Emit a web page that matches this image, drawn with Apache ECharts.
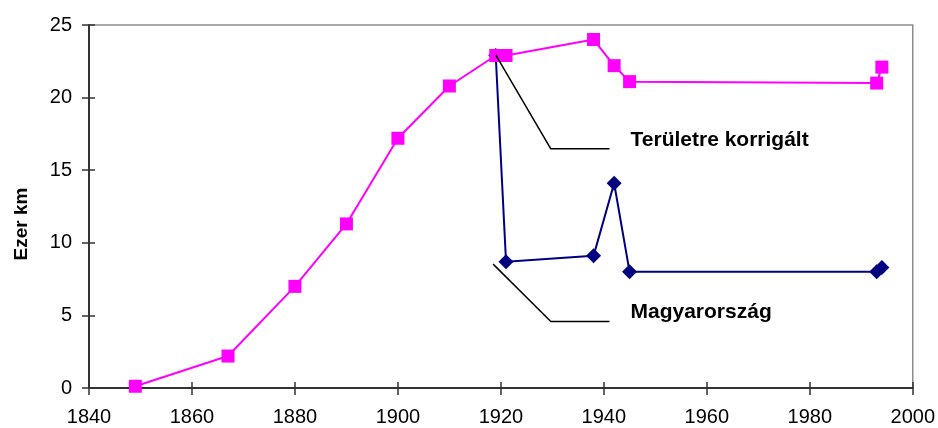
<!DOCTYPE html>
<html>
<head>
<meta charset="utf-8">
<script src="https://cdn.jsdelivr.net/npm/echarts@6/dist/echarts.min.js"></script>
<style>
  html, body { margin: 0; padding: 0; background: #fff; }
  #chart { width: 938px; height: 428px; }
</style>
</head>
<body>
<div id="chart"></div>
<script>
// Railway network length, thousand km
const years      = [1849, 1867, 1880, 1890, 1900, 1910, 1919, 1921, 1938, 1942, 1945, 1993, 1994];
const korrigalt  = [0.12, 2.2, 7.0, 11.3, 17.2, 20.8, 22.9, 22.9, 24.0, 22.2, 21.1, 21.0, 22.1];
const magyarYears = [1919, 1921, 1938, 1942, 1945, 1993, 1994];
const magyar      = [22.9, 8.7, 9.1, 14.1, 8.0, 8.0, 8.3];

const xTicks = [1840, 1860, 1880, 1900, 1920, 1940, 1960, 1980, 2000];
const yTicks = [0, 5, 10, 15, 20, 25];

// Callout leader lines (data coordinates) and their captions
const leaderKorrigalt = [[1919, 22.94], [1929.7, 16.47], [1941.1, 16.47]];
const leaderMagyar    = [[1918.5, 8.53], [1929.7, 4.58], [1941.1, 4.58]];
const captionKorrigalt = 'Területre korrigált';
const captionMagyar    = 'Magyarország';
const yTitle = 'Ezer km';

const FONT = '"Liberation Sans", Arial, sans-serif';

const pairs = (xs, ys) => xs.map((x, i) => [x, ys[i]]);

const chart = echarts.init(document.getElementById('chart'), null, { renderer: 'canvas' });

const xBase = {
  type: 'value', min: xTicks[0], max: xTicks[xTicks.length - 1], interval: 20,
  position: 'bottom', splitLine: { show: false }
};
const yBase = {
  type: 'value', min: yTicks[0], max: yTicks[yTicks.length - 1], interval: 5,
  position: 'left', splitLine: { show: false }
};

chart.setOption({
  animation: false,
  backgroundColor: '#ffffff',
  grid: {
    left: 89, right: 25, top: 25, bottom: 40,
    show: true, borderColor: '#8c8c8c', borderWidth: 1.5, backgroundColor: 'transparent'
  },
  xAxis: [
    Object.assign({}, xBase, {
      axisLine: { show: true, lineStyle: { color: '#333', width: 2 } },
      axisTick: { show: true, inside: false, length: 7, lineStyle: { color: '#333', width: 1.5 } },
      axisLabel: { show: true, margin: 19, color: '#000', fontSize: 20, fontFamily: FONT,
                   formatter: v => String(v) }
    }),
    Object.assign({}, xBase, {
      axisLine: { show: false },
      axisTick: { show: true, inside: true, length: 6, lineStyle: { color: '#333', width: 1.5 } },
      axisLabel: { show: false }
    })
  ],
  yAxis: [
    Object.assign({}, yBase, {
      axisLine: { show: true, lineStyle: { color: '#333', width: 2 } },
      axisTick: { show: true, inside: false, length: 7, lineStyle: { color: '#333', width: 1.5 } },
      axisLabel: { show: true, margin: 17, color: '#000', fontSize: 20, fontFamily: FONT,
                   formatter: v => String(v) }
    }),
    Object.assign({}, yBase, {
      axisLine: { show: false },
      axisTick: { show: true, inside: true, length: 6, lineStyle: { color: '#333', width: 1.5 } },
      axisLabel: { show: false }
    })
  ],
  series: [
    {
      name: captionMagyar, type: 'line', xAxisIndex: 0, yAxisIndex: 0, z: 2,
      data: pairs(magyarYears, magyar),
      symbol: 'diamond', symbolSize: 15, showSymbol: true,
      lineStyle: { color: '#000080', width: 2 },
      itemStyle: { color: '#000080' }
    },
    {
      name: captionKorrigalt, type: 'line', xAxisIndex: 0, yAxisIndex: 0, z: 3,
      data: pairs(years, korrigalt),
      symbol: 'rect', symbolSize: 13, showSymbol: true,
      lineStyle: { color: '#ff00ff', width: 2 },
      itemStyle: { color: '#ff00ff' }
    },
    {
      type: 'line', z: 4, silent: true, data: leaderKorrigalt,
      symbol: 'none', lineStyle: { color: '#000', width: 1.5 }
    },
    {
      type: 'line', z: 4, silent: true, data: leaderMagyar,
      symbol: 'none', lineStyle: { color: '#000', width: 1.5 }
    }
  ]
});

// Captions placed just right of each leader line's end
function caption(text, end) {
  const p = chart.convertToPixel({ xAxisIndex: 0, yAxisIndex: 0 }, end);
  return {
    type: 'text', x: p[0] + 21, y: p[1] - 9, z: 10,
    style: { text: text, fill: '#000', font: 'bold 21px ' + FONT,
             textAlign: 'left', textVerticalAlign: 'middle' }
  };
}

chart.setOption({
  graphic: [
    caption(captionKorrigalt, leaderKorrigalt[leaderKorrigalt.length - 1]),
    caption(captionMagyar, leaderMagyar[leaderMagyar.length - 1]),
    {
      type: 'text', x: 22, y: 224, rotation: Math.PI / 2, z: 10,
      style: { text: yTitle, fill: '#000', font: 'bold 19px ' + FONT,
               textAlign: 'center', textVerticalAlign: 'middle' }
    }
  ]
});
</script>
</body>
</html>
